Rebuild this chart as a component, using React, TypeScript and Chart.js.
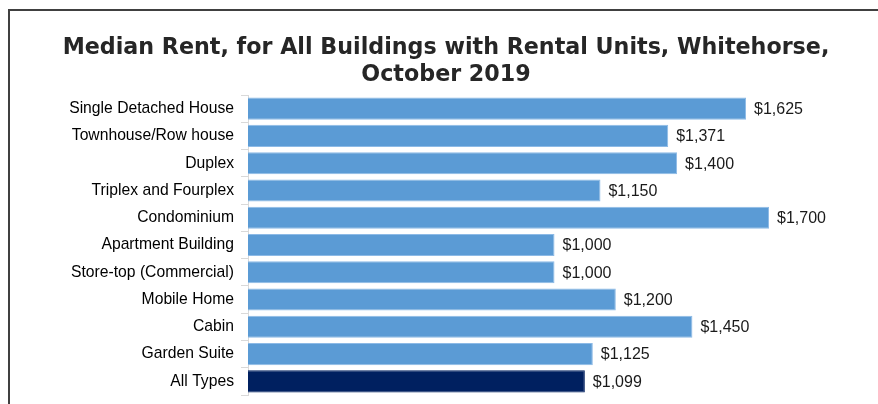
import React, { useEffect, useRef } from "react";
import { Chart, registerables } from "chart.js";

Chart.register(...registerables);

const titleLines = [
  "Median Rent, for All Buildings with Rental Units, Whitehorse,",
  "October 2019",
];

const categories = [
  "Single Detached House",
  "Townhouse/Row house",
  "Duplex",
  "Triplex and Fourplex",
  "Condominium",
  "Apartment Building",
  "Store-top (Commercial)",
  "Mobile Home",
  "Cabin",
  "Garden Suite",
  "All Types",
];

const rents = [1625, 1371, 1400, 1150, 1700, 1000, 1000, 1200, 1450, 1125, 1099];

const LIGHT = "#5B9BD5";
const DARK = "#002060";

const TITLE_FAMILY = '"DejaVu Sans", sans-serif';
const LABEL_FAMILY = '"Liberation Sans", Arial, sans-serif';

function fitTitleSize(): number {
  const c = document.createElement("canvas");
  const ctx = c.getContext("2d")!;
  ctx.font = `bold 22px ${TITLE_FAMILY}`;
  const w = ctx.measureText(titleLines[0]).width;
  return Math.max(14, Math.min(26, (22 * 767) / w));
}

const valueLabels = {
  id: "valueLabels",
  afterDatasetsDraw(chart: any) {
    const ctx = chart.ctx;
    const meta = chart.getDatasetMeta(0);
    ctx.save();
    ctx.font = `16px ${LABEL_FAMILY}`;
    ctx.fillStyle = "#1a1a1a";
    ctx.textAlign = "left";
    ctx.textBaseline = "middle";
    meta.data.forEach((el: any, i: number) => {
      const v = chart.data.datasets[0].data[i] as number;
      const txt = "$" + v.toLocaleString("en-US");
      ctx.fillText(txt, el.x + 8, el.y + 1);
    });
    ctx.restore();
  },
};

export default function App() {
  const ref = useRef<HTMLCanvasElement>(null);

  useEffect(() => {
    document.body.style.overflow = "hidden";
    const titleSize = fitTitleSize();
    const padL = 31;
    const padR = 17;
    const chart = new Chart(ref.current!, {
      type: "bar",
      data: {
        labels: categories,
        datasets: [
          {
            data: rents,
            backgroundColor: categories.map((_, i) => (i === categories.length - 1 ? DARK : LIGHT)),
            borderColor: categories.map((_, i) => (i === categories.length - 1 ? DARK : "#8DBAE6")),
            borderWidth: 1,
            borderSkipped: "left",
            barPercentage: 0.81,
            categoryPercentage: 1,
          },
        ],
      },
      options: {
        indexAxis: "y",
        responsive: false,
        animation: false,
        layout: { padding: { left: padL, right: padR, top: 0, bottom: 9 } },
        plugins: {
          legend: { display: false },
          tooltip: { enabled: false },
          title: {
            display: true,
            text: titleLines,
            color: "#262626",
            font: { family: TITLE_FAMILY, size: titleSize, weight: "bold", lineHeight: 27 / titleSize },
            padding: { top: 34.5, bottom: 6.5 },
          },
        },
        scales: {
          x: { display: false, min: 0, max: 2000 },
          y: {
            afterFit: (axis: any) => {
              axis.width = 248 - padL;
              axis.paddingTop = 0;
              axis.paddingBottom = 0;
            },
            border: { display: true, color: "#d9d9d9", width: 1 },
            grid: {
              display: true,
              drawOnChartArea: false,
              drawTicks: true,
              tickLength: 7,
              color: "#d9d9d9",
              offset: true,
            },
            ticks: {
              color: "#000000",
              padding: 7,
              font: { family: LABEL_FAMILY, size: 15.7 },
            },
          },
        },
      },
      plugins: [valueLabels],
    });
    return () => chart.destroy();
  }, []);

  return (
    <div style={{ position: "fixed", left: 0, top: 0, width: 878, height: 404, background: "#fff", overflow: "hidden" }}>
      <div
        style={{
          position: "absolute",
          left: 8,
          top: 9,
          width: 1000,
          height: 1000,
          borderLeft: "2px solid #404040",
          borderTop: "2px solid #404040",
        }}
      />
      <canvas ref={ref} width={878} height={404} style={{ position: "absolute", left: 0, top: 0 }} />
    </div>
  );
}
